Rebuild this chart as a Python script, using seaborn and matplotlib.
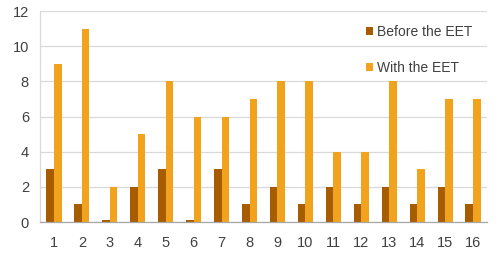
import matplotlib
matplotlib.use("Agg")
import matplotlib.pyplot as plt
import seaborn as sns
import pandas as pd
import numpy as np
from matplotlib.patches import Patch

categories = [str(i) for i in range(1, 17)]
before = [3, 1, 0.1, 2, 3, 0.1, 3, 1, 2, 1, 2, 1, 2, 1, 2, 1]
with_eet = [9, 11, 2, 5, 8, 6, 6, 7, 8, 8, 4, 4, 8, 3, 7, 7]
series_names = ["Before the EET", "With the EET"]
colors = ["#A85C00", "#F2A31D"]

df = pd.DataFrame({
    "cat": categories * 2,
    "value": before + with_eet,
    "series": [series_names[0]] * len(categories) + [series_names[1]] * len(categories),
})

sns.set_theme(style="white")
plt.rcParams["font.family"] = ["Liberation Sans", "DejaVu Sans"]

fig = plt.figure(figsize=(5, 2.57), dpi=100)
ax = fig.add_axes([0.08, 0.136, 0.894, 0.821])

sns.barplot(data=df, x="cat", y="value", hue="series", palette=colors,
            width=0.54, saturation=1, ax=ax, legend=False, linewidth=0)

ax.set_xlim(-0.5, 15.5)
ax.set_ylim(0, 12)
ax.set_yticks(range(0, 13, 2))
ax.set_xlabel("")
ax.set_ylabel("")
ax.grid(axis="y", color="#d9d9d9", linewidth=0.9)
ax.set_axisbelow(True)
for s in ["top", "right"]:
    ax.spines[s].set_visible(False)
ax.spines["left"].set_color("#d9d9d9")
ax.spines["left"].set_linewidth(0.9)
ax.spines["bottom"].set_color("#a6a6a6")
ax.spines["bottom"].set_linewidth(0.9)

ax.tick_params(axis="both", labelsize=10.5, labelcolor="#404040")
ax.tick_params(axis="y", length=0, pad=8)
ax.tick_params(axis="x", which="major", length=0, pad=10)
ax.set_xticks(np.arange(-0.5, 16, 1), minor=True)
ax.tick_params(axis="x", which="minor", length=4, color="#a6a6a6", width=0.9, direction="out")

handles = [Patch(facecolor=c, edgecolor="none", label=n) for c, n in zip(colors, series_names)]
leg = ax.legend(handles=handles, loc="upper left", bbox_to_anchor=(0.716, 0.962),
                frameon=False, fontsize=10, handlelength=0.55, handleheight=0.55,
                handletextpad=0.3, labelspacing=1.6, borderaxespad=0)
for t in leg.get_texts():
    t.set_color("#404040")

fig.savefig("out.png", dpi=100)
